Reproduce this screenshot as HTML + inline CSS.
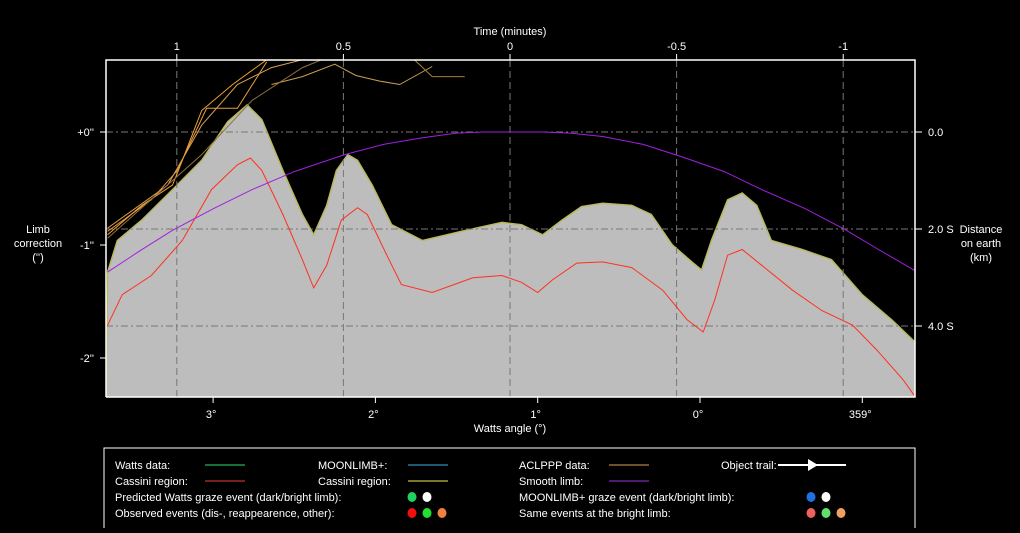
<!DOCTYPE html>
<html><head><meta charset="utf-8"><style>
body{margin:0;background:#000;width:1020px;height:528px;overflow:hidden;font-family:"Liberation Sans",sans-serif}
svg text{font-family:"Liberation Sans",sans-serif;font-size:11px;fill:#fff}
</style></head><body>
<svg width="1020" height="528">
<g id="plot"></g>
</svg>
<script>
// Watts angle (deg) and limb correction (arcsec)
const greyAngle=[3.65,3.59,3.44,3.25,3.07,2.91,2.79,2.70,2.57,2.45,2.38,2.30,2.24,2.17,2.11,2.02,1.90,1.71,1.47,1.22,1.10,0.97,0.85,0.73,0.60,0.42,0.30,0.17,0.05,-0.01,-0.07,-0.17,-0.26,-0.35,-0.44,-0.63,-0.81,-1.00,-1.18,-1.34];
const greyLimb=[-1.24,-0.96,-0.78,-0.51,-0.25,0.09,0.24,0.11,-0.34,-0.73,-0.91,-0.65,-0.34,-0.20,-0.25,-0.47,-0.82,-0.96,-0.88,-0.80,-0.82,-0.91,-0.78,-0.66,-0.63,-0.65,-0.73,-1.00,-1.15,-1.22,-0.96,-0.60,-0.54,-0.65,-0.96,-1.04,-1.13,-1.44,-1.66,-1.88];
const redAngle=[3.65,3.56,3.38,3.19,3.01,2.85,2.77,2.70,2.57,2.45,2.38,2.30,2.21,2.11,2.05,1.93,1.84,1.65,1.40,1.22,1.10,1.00,0.91,0.76,0.60,0.42,0.23,0.08,-0.02,-0.09,-0.17,-0.26,-0.38,-0.57,-0.75,-0.94,-1.09,-1.25,-1.32];
const redLimb=[-1.71,-1.44,-1.27,-0.96,-0.51,-0.29,-0.23,-0.34,-0.73,-1.13,-1.38,-1.18,-0.78,-0.67,-0.73,-1.09,-1.35,-1.42,-1.29,-1.27,-1.33,-1.42,-1.31,-1.16,-1.15,-1.20,-1.40,-1.66,-1.77,-1.49,-1.09,-1.04,-1.18,-1.40,-1.58,-1.71,-1.93,-2.19,-2.33];
const smoothAngle=[3.65,3.45,3.25,3.00,2.76,2.50,2.19,1.95,1.71,1.50,1.34,1.15,0.97,0.80,0.60,0.35,0.11,-0.15,-0.38,-0.65,-0.89,-1.10,-1.34];
const smoothLimb=[-1.24,-1.05,-0.87,-0.68,-0.51,-0.35,-0.20,-0.11,-0.05,-0.01,0,0,0,-0.01,-0.04,-0.11,-0.22,-0.35,-0.51,-0.68,-0.86,-1.04,-1.24];
// ACLPPP tracks (angle, limb)
const acl1A=[3.65,3.44,3.25,3.20,3.07,2.88,2.67];const acl1L=[-0.91,-0.65,-0.47,-0.29,0.19,0.42,0.64];
const acl2A=[3.65,3.38,3.22,3.04,2.85,2.67];const acl2L=[-0.88,-0.60,-0.34,0.21,0.21,0.62];
const acl3A=[3.65,3.28,3.07,2.85,2.64,2.45,2.40];const acl3L=[-0.85,-0.47,0.06,0.42,0.57,0.64,0.70];
const acl4A=[2.64,2.45,2.25,2.12,1.97,1.85,1.65];const acl4L=[0.42,0.49,0.60,0.50,0.45,0.42,0.58];
const acl5A=[3.65,3.07,2.76,2.45,2.33];const acl5L=[-0.94,-0.20,0.28,0.57,0.64];
const acl6A=[1.76,1.65,1.45];const acl6L=[0.64,0.49,0.49];
const timeTicks=[1,0.5,0,-0.5,-1];const timeLabels=["1","0.5","0","-0.5","-1"];
const angleTicks=[3,2,1,0,-1];const angleLabels=["3°","2°","1°","0°","359°"];
const limbTicks=[0,-1,-2];const limbLabels=["+0''","-1''","-2''"];
const kmTicks=[0,2,4];const kmLabels=["0.0","2.0 S","4.0 S"];

const L=106,R=915,T=60,B=397;
const ax=a=>700-a*162.3;
const ly=v=>132-v*113;
const tx=t=>510-t*333.2;
const ky=k=>132+k*48.5;
const NS="http://www.w3.org/2000/svg";
const g=document.getElementById('plot');
function mk(tag,attrs,parent){const e=document.createElementNS(NS,tag);for(const k in attrs)e.setAttribute(k,attrs[k]);(parent||g).appendChild(e);return e;}
const defs=mk('defs',{});const cp=mk('clipPath',{id:'c'},defs);mk('rect',{x:L,y:T,width:R-L,height:B-T},cp);
const clip=mk('g',{'clip-path':'url(#c)'});
function pts(A,V){return A.map((a,i)=>ax(a).toFixed(1)+','+ly(V[i]).toFixed(1)).join(' ');}
let d='M'+L+','+B+' L'+pts(greyAngle,greyLimb).split(' ').join(' L')+' L'+R+','+B+' Z';
const area=mk('path',{d:d,fill:'#bdbdbd',stroke:'#b8b860','stroke-width':1.5},clip);


// grid
timeTicks.forEach(t=>{const l=mk('line',{x1:tx(t),x2:tx(t),y1:T,y2:B,stroke:'#777','stroke-dasharray':'7,4'},clip);

});
kmTicks.forEach(k=>{const l=mk('line',{x1:L,x2:R,y1:ky(k),y2:ky(k),stroke:'#777','stroke-dasharray':'7,3,2,3'},clip);

});
function line(A,V,c,n){const p=mk('polyline',{points:pts(A,V),fill:'none',stroke:c,'stroke-width':1},clip);

}
line(redAngle,redLimb,'#ff3020','cassini-region-line');
line(smoothAngle,smoothLimb,'#a020e0','smooth-limb-line');
line(acl1A,acl1L,'#f0a030','aclppp-track-1');
line(acl2A,acl2L,'#e8a040','aclppp-track-2');
line(acl3A,acl3L,'#d8a050','aclppp-track-3');
line(acl4A,acl4L,'#c8a050','aclppp-track-4');
line(acl5A,acl5L,'#907040','aclppp-track-5');
line(acl6A,acl6L,'#a08040','aclppp-track-6');
// frame
const fr=mk('path',{d:`M${L},${B}V${T}H${R}V${B}H${L}`,fill:'none',stroke:'#fff','stroke-width':1.5});


function txt(x,y,s,anchor,n){const t=mk('text',{x:x,y:y,'text-anchor':anchor||'middle'});t.textContent=s;

return t;}
timeTicks.forEach((t,i)=>{mk('line',{x1:tx(t),x2:tx(t),y1:T-6,y2:T,stroke:'#fff'});txt(tx(t),50,timeLabels[i],'middle','time-tick-label');});
angleTicks.forEach((a,i)=>{mk('line',{x1:ax(a),x2:ax(a),y1:B,y2:B+6,stroke:'#fff'});txt(ax(a)-2,418,angleLabels[i],'middle','angle-tick-label');});
limbTicks.forEach((v,i)=>{mk('line',{x1:L-6,x2:L,y1:ly(v),y2:ly(v),stroke:'#fff'});txt(L-12,ly(v)+4,limbLabels[i],'end','limb-tick-label');});
kmTicks.forEach((k,i)=>{mk('line',{x1:R,x2:R+7,y1:ky(k),y2:ky(k),stroke:'#fff'});txt(928,ky(k)+4,kmLabels[i],'start','km-tick-label');});
txt(510,35,'Time (minutes)','middle','x2-axis-title');
txt(510,432,'Watts angle (°)','middle','x-axis-title');
txt(38,233,'Limb','middle','y-axis-title');txt(38,247,'correction','middle','y-axis-title');txt(38,261,"('')",'middle','y-axis-title');
txt(981,233,'Distance','middle','y2-axis-title');txt(981,247,'on earth','middle','y2-axis-title');txt(981,261,'(km)','middle','y2-axis-title');
// legend
const lg=mk('rect',{x:104,y:448,width:811,height:82,fill:'none',stroke:'#fff'});


function le(x,y,s){txt(x,y,s,'start','legend-entry');}
le(115,469,'Watts data:');mk('line',{x1:205,x2:245,y1:465,y2:465,stroke:'#30e070'});
le(115,485,'Cassini region:');mk('line',{x1:205,x2:245,y1:481,y2:481,stroke:'#f04030'});
le(318,469,'MOONLIMB+:');mk('line',{x1:408,x2:448,y1:465,y2:465,stroke:'#40b0f0'});
le(318,485,'Cassini region:');mk('line',{x1:408,x2:448,y1:481,y2:481,stroke:'#f0f050'});
le(519,469,'ACLPPP data:');mk('line',{x1:609,x2:649,y1:465,y2:465,stroke:'#e0a050'});
le(519,485,'Smooth limb:');mk('line',{x1:609,x2:649,y1:481,y2:481,stroke:'#a030e0'});
le(721,469,'Object trail:');mk('line',{x1:778,x2:846,y1:465,y2:465,stroke:'#fff','stroke-width':2});mk('polygon',{points:'808,459 818,465 808,471',fill:'#fff'});
le(115,501,'Predicted Watts graze event (dark/bright limb):');
le(115,517,'Observed events (dis-, reappearence, other):');
le(519,501,'MOONLIMB+ graze event (dark/bright limb):');
le(519,517,'Same events at the bright limb:');
function dot(x,y,c){const e=mk('ellipse',{cx:x,cy:y,rx:4.5,ry:5,fill:c});

}
dot(412,497,'#20d060');dot(427,497,'#fff');
dot(412,513,'#f01010');dot(427,513,'#20e030');dot(442,513,'#f08040');
dot(811,497,'#2070e0');dot(826,497,'#fff');
dot(811,513,'#f06060');dot(826,513,'#60e070');dot(841,513,'#f0a060');
</script>
</body></html>
